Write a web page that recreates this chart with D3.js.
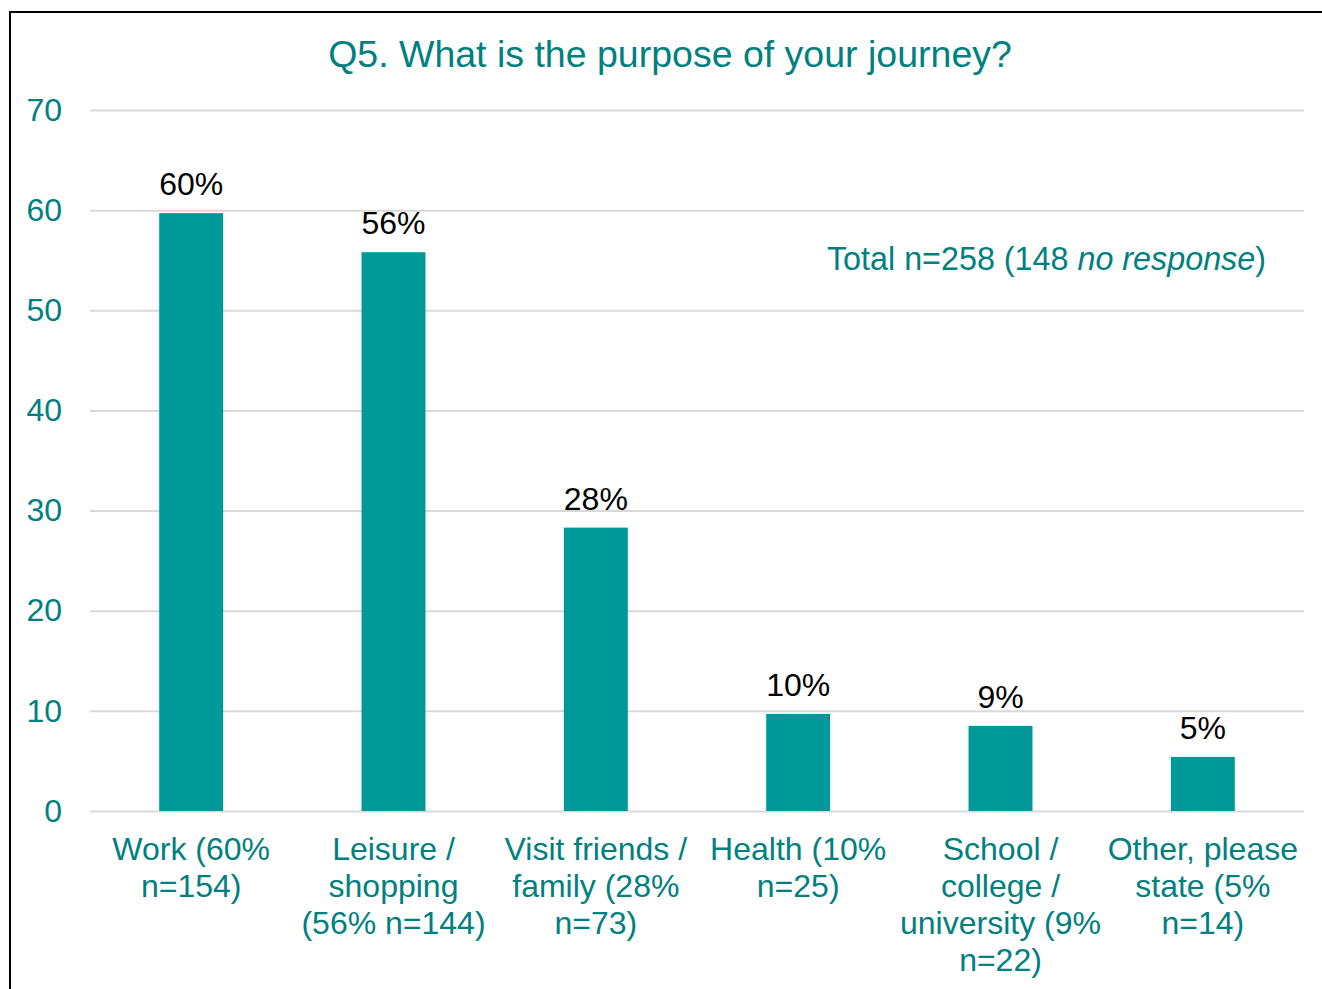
<!DOCTYPE html>
<html>
<head>
<meta charset="utf-8">
<script src="https://cdn.jsdelivr.net/npm/d3@7"></script>
<style>
  html, body { margin: 0; padding: 0; background: #fff; }
  svg { display: block; }
  text { font-family: "Liberation Sans", Arial, sans-serif; }
</style>
</head>
<body>
<svg id="chart" width="1322" height="989"></svg>
<script>
// Journey purpose responses (share of total n=258)
const categories = [
  ["Work (60%", "n=154)"],
  ["Leisure /", "shopping", "(56% n=144)"],
  ["Visit friends /", "family (28%", "n=73)"],
  ["Health (10%", "n=25)"],
  ["School /", "college /", "university (9%", "n=22)"],
  ["Other, please", "state (5%", "n=14)"]
];
const values = [59.7, 55.8, 28.3, 9.7, 8.5, 5.4];
const yTicks = [0, 10, 20, 30, 40, 50, 60, 70];
const titleText = "Q5. What is the purpose of your journey?";

const teal = "#009999";
const tealText = "#00807f";
const gridColor = "#d9d9d9";

const svg = d3.select("#chart");

// Outer chart frame
svg.append("rect")
  .attr("x", 10).attr("y", 12)
  .attr("width", 1330).attr("height", 1000)
  .attr("fill", "#fff")
  .attr("stroke", "#000").attr("stroke-width", 2);

const plot = { left: 90, right: 1304, top: 110, bottom: 811 };

const x = d3.scaleBand()
  .domain(d3.range(categories.length))
  .range([plot.left, plot.right])
  .paddingInner(0.684)
  .paddingOuter(0.342);

const y = d3.scaleLinear()
  .domain([0, 70])
  .range([plot.bottom, plot.top]);

// Horizontal gridlines
svg.append("g")
  .selectAll("line")
  .data(yTicks)
  .join("line")
  .attr("x1", plot.left).attr("x2", plot.right)
  .attr("y1", d => y(d) + 0.5).attr("y2", d => y(d) + 0.5)
  .attr("stroke", gridColor).attr("stroke-width", 2);

// Y axis labels
const yAxis = d3.axisLeft(y).tickValues(yTicks).tickSize(0).tickPadding(0);
const yG = svg.append("g")
  .attr("transform", `translate(62,0)`)
  .call(yAxis);
yG.select(".domain").remove();
yG.selectAll("text")
  .attr("fill", tealText)
  .attr("font-size", 32)
  .attr("font-family", "Liberation Sans, Arial, sans-serif");

// Bars
svg.append("g")
  .selectAll("rect")
  .data(values)
  .join("rect")
  .attr("x", (d, i) => x(i))
  .attr("width", x.bandwidth())
  .attr("y", d => y(d))
  .attr("height", d => y(0) - y(d))
  .attr("fill", teal);

// Value labels
svg.append("g")
  .selectAll("text")
  .data(values)
  .join("text")
  .attr("x", (d, i) => x(i) + x.bandwidth() / 2)
  .attr("y", d => y(d) - 18)
  .attr("text-anchor", "middle")
  .attr("font-size", 32)
  .attr("fill", "#000")
  .text(d => Math.round(d) + "%");

// Category labels
const catG = svg.append("g")
  .selectAll("text")
  .data(categories)
  .join("text")
  .attr("x", (d, i) => x(i) + x.bandwidth() / 2)
  .attr("y", 860)
  .attr("text-anchor", "middle")
  .attr("font-size", 32)
  .attr("fill", tealText);
catG.selectAll("tspan")
  .data((d, i) => d.map(line => ({ line, i })))
  .join("tspan")
  .attr("x", d => x(d.i) + x.bandwidth() / 2)
  .attr("dy", (d, j) => j === 0 ? 0 : 37)
  .text(d => d.line);

// Title
svg.append("text")
  .attr("x", 670)
  .attr("y", 67)
  .attr("text-anchor", "middle")
  .attr("font-size", 37.5)
  .attr("fill", tealText)
  .text(titleText);

// Sample note
const note = svg.append("text")
  .attr("x", 1266)
  .attr("y", 270)
  .attr("text-anchor", "end")
  .attr("font-size", 32.3)
  .attr("fill", tealText);
note.append("tspan").text("Total n=258 (148 ");
note.append("tspan").attr("font-style", "italic").text("no response");
note.append("tspan").text(")");
</script>
</body>
</html>
